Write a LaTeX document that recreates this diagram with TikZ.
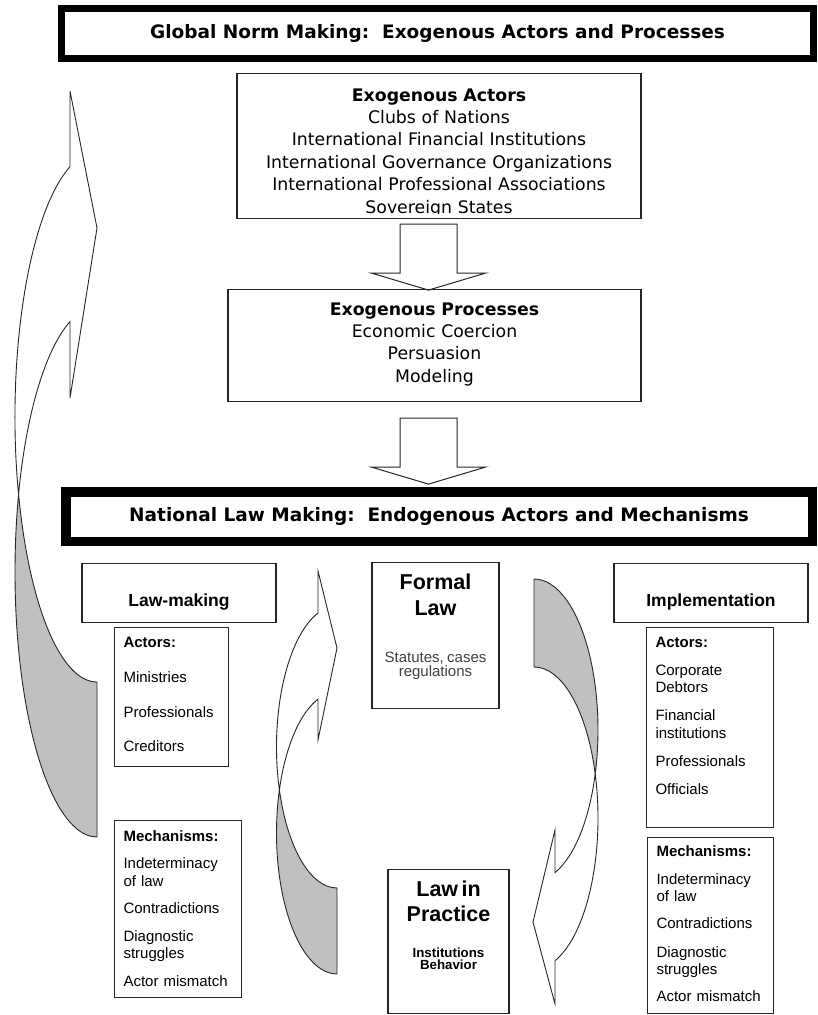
\documentclass[tikz,border=0pt]{standalone}
\usepackage{fontspec}
\setmainfont{Liberation Sans}
\newfontfamily\verdfont{DejaVu Sans}
\definecolor{crescent}{HTML}{C0C0C0}
\tikzset{
  banner/.style={draw, fill=white, font=\verdfont\bfseries\fontsize{18.5}{22}\selectfont},
  exobox/.style={draw=black!85, line width=1.1pt, anchor=north, align=center, inner xsep=0pt, inner ysep=0pt, font=\verdfont\fontsize{17.3}{22.4}\selectfont},
  headbox/.style={draw=black!85, line width=1.1pt, anchor=north, align=center, inner xsep=0pt, inner ysep=0pt, text width=194pt, text height=43pt, text depth=16pt, font=\bfseries\fontsize{17.5}{20}\selectfont},
  listbox/.style={draw=black!85, line width=1.1pt, anchor=north west, align=left, inner xsep=9pt, inner ysep=0pt, font=\fontsize{15}{17.5}\selectfont},
  lawbox/.style={draw=black!85, line width=1.1pt, anchor=north, align=center, inner xsep=0pt, inner ysep=0pt, font=\bfseries},
  bentarrow/.style={draw=black!85, line width=0.9pt},
  downarrow/.pic={
    \filldraw[fill=white, draw=black!85, line width=1pt] (-28.5,0) -- (28.5,0) -- (28.5,49) -- (57,49) -- (0,66) -- (-57,49) -- (-28.5,49) -- cycle;
  }
}
\begin{document}
\begin{tikzpicture}[x=1pt, y=-1pt]
  \useasboundingbox (0,0) rectangle (817,1015);
  \node[banner, line width=7pt, minimum width=752pt, minimum height=50pt] (global) at (437.5,33.5) {Global Norm Making:\ \ Exogenous Actors and Processes};

  \node[exobox, text width=404pt, text height=27.6pt, text depth=117.4pt] (exoact) at (439,73) {\textbf{Exogenous Actors}\\Clubs of Nations\\International Financial Institutions\\International Governance Organizations\\International Professional Associations\\Sovereign States};
  \fill[white] (238,213.5) rectangle (640,217.4);
  \path (exoact.south) ++(-10.5,5) pic {downarrow};

  \node[exobox, text width=413pt, text height=25.6pt, text depth=86.4pt] (exoproc) at (434.5,289) {\textbf{Exogenous Processes}\\Economic Coercion\\Persuasion\\Modeling};
  \path (exoproc.south) ++(-6,16) pic {downarrow};

  \node[banner, line width=9.5pt, minimum width=746.5pt, minimum height=49.5pt] (national) at (439,516.5) {National Law Making:\ \ Endogenous Actors and Mechanisms};

  \node[headbox] (lawmaking) at (179,563) {Law-making};
  \node[headbox] (implementation) at (711,563) {Implementation};

  \node[listbox, text width=96pt, text height=20.3pt, text depth=118.7pt] (lactors) at (114,627) {\textbf{Actors:}\\[17.2pt]Ministries\\[17.2pt]Professionals\\[17.2pt]Creditors};
  \node[listbox, text width=109pt, text height=21.3pt, text depth=155.7pt] (lmech) at (114,820) {\textbf{Mechanisms:}\\[9.5pt]Indeterminacy\\of law\\[9.5pt]Contradictions\\[10.5pt]Diagnostic\\struggles\\[10pt]Actor mismatch};
  \node[listbox, text width=109pt, text height=20.3pt, text depth=179.7pt] (ractors) at (646,627) {\textbf{Actors:}\\[10pt]Corporate\\Debtors\\[10.5pt]Financial\\institutions\\[11pt]Professionals\\[10.5pt]Officials};
  \node[listbox, text width=108pt, text height=19.3pt, text depth=156.7pt] (rmech) at (647,837) {\textbf{Mechanisms:}\\[10pt]Indeterminacy\\of law\\[9.5pt]Contradictions\\[11pt]Diagnostic\\struggles\\[9.5pt]Actor mismatch};

  \node[lawbox, text width=127pt, text height=26.7pt, text depth=119.3pt] (formal) at (435.5,562) {\fontsize{21.5}{26}\selectfont Formal\\Law\par\vspace{30.5pt}\mdseries\color{black!75}\fontsize{15}{16.5}\selectfont Statutes, cases\\regulations};
  \node[lawbox, text width=121pt, text height=26.7pt, text depth=117.3pt] (practice) at (448.5,869) {\fontsize{21.5}{25}\selectfont Law in\\Practice\par\vspace{21pt}\fontsize{13.3}{15}\selectfont Institutions\\Behavior};

  \filldraw[bentarrow, fill=crescent] (18.6,494.5) arc[start angle=163, end angle=90, x radius=82, y radius=265] -- (97,837) arc[start angle=90, end angle=197, x radius=82, y radius=265] -- cycle;
  \filldraw[bentarrow, fill=white] (70,166.7) arc[start angle=250.8, end angle=163, x radius=82, y radius=265] arc[start angle=197, end angle=250.8, x radius=82, y radius=265] -- (70,398) -- (97,228) -- (70,91) -- cycle;

  \filldraw[bentarrow, fill=crescent] (279.4,790) arc[start angle=162.24, end angle=90, x radius=60.5, y radius=141] -- (337,974) arc[start angle=90, end angle=197.76, x radius=60.5, y radius=141] -- cycle;
  \filldraw[bentarrow, fill=white] (318,613.1) arc[start angle=251.7, end angle=162.24, x radius=60.5, y radius=141] arc[start angle=197.76, end angle=251.7, x radius=60.5, y radius=141] -- (318,740) -- (337,648) -- (318,571) -- cycle;

  \filldraw[bentarrow, fill=crescent] (534,579) arc[start angle=270, end angle=376.94, x radius=64, y radius=151] arc[start angle=343.06, end angle=270, x radius=64, y radius=151] -- cycle;
  \filldraw[bentarrow, fill=white] (595.2,774) arc[start angle=16.94, end angle=70.85, x radius=64, y radius=151] -- (555,830) -- (533,922) -- (555,1004) -- (555,960.7) arc[start angle=70.85, end angle=-16.94, x radius=64, y radius=151] -- cycle;
\end{tikzpicture}
\end{document}
